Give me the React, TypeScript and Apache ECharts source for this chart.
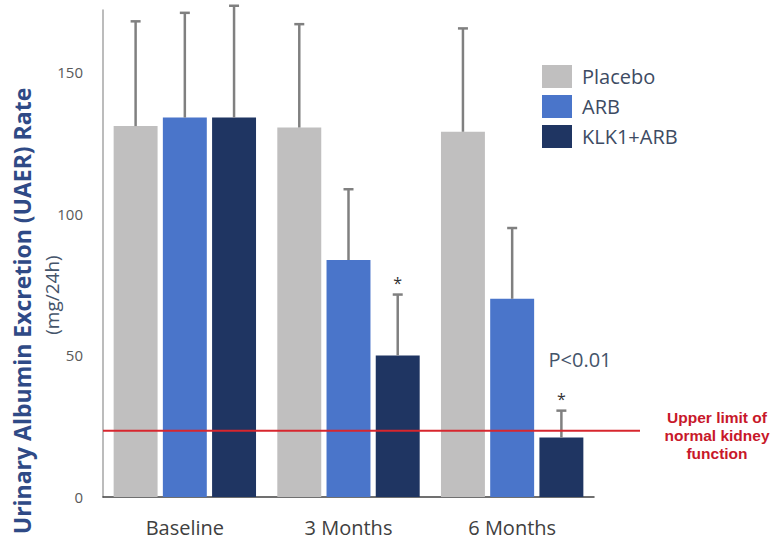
import React, { useEffect, useRef } from "react";
import * as echarts from "echarts";

const categories = ["Baseline", "3 Months", "6 Months"];
const seriesNames = ["Placebo", "ARB", "KLK1+ARB"];
const placebo = [131, 130.5, 129];
const placeboSD = [37, 36.5, 36.5];
const arb = [134, 83.7, 70];
const arbSD = [37, 25, 25];
const klk = [134, 50, 21];
const klkSD = [39.5, 21.5, 9.5];
const klkSignificant = [false, true, true];
const upperLimit = 23.4;
const yTicks = [0, 50, 100, 150];

const colors = ["#c0bfbf", "#4a75ca", "#1f3562"];
const CAT_GAP = 0.13;
const BAR_GAP = 0.12;

function errorRender(k: number, means: number[], sds: number[], stars?: boolean[]) {
  return (params: any, api: any) => {
    const i = api.value(0);
    const band = api.size([1, 0])[0];
    const remained = band * (1 - CAT_GAP);
    const w = remained / (3 + 2 * BAR_GAP);
    const total = 3 * w + 2 * w * BAR_GAP;
    const cx0 = api.coord([i, 0])[0];
    const cx = cx0 - total / 2 + k * (w + w * BAR_GAP) + w / 2;
    const yBase = api.coord([i, means[i]])[1];
    const yTop = api.coord([i, means[i] + sds[i]])[1];
    const capW = 5;
    const children: any[] = [
      { type: "line", shape: { x1: cx, y1: yBase, x2: cx, y2: yTop }, style: { stroke: "#808080", lineWidth: 2.5 } },
      { type: "line", shape: { x1: cx - capW, y1: yTop, x2: cx + capW, y2: yTop }, style: { stroke: "#808080", lineWidth: 2.5 } },
    ];
    if (stars && stars[i]) {
      children.push({
        type: "text",
        x: cx,
        y: yTop - 12,
        style: { text: "*", fill: "#333", font: "16px 'Open Sans'", align: "center", verticalAlign: "middle" },
      });
    }
    return { type: "group", children };
  };
}

export default function App() {
  const ref = useRef<HTMLDivElement>(null);
  useEffect(() => {
    const chart = echarts.init(ref.current!, undefined, { renderer: "svg" });
    const barSeries = [placebo, arb, klk].map((d, k) => ({
      name: seriesNames[k],
      type: "bar",
      data: d,
      itemStyle: { color: colors[k] },
      barCategoryGap: "13%",
      barGap: "12%",
    }));
    const errs = [
      [placebo, placeboSD, undefined],
      [arb, arbSD, undefined],
      [klk, klkSD, klkSignificant],
    ].map((e: any, k) => ({
      type: "custom",
      clip: false,
      z: 5,
      silent: true,
      data: categories.map((_, i) => [i]),
      renderItem: errorRender(k, e[0], e[1], e[2]),
    }));
    chart.setOption({
      animation: false,
      textStyle: { fontFamily: "'Open Sans'" },
      grid: { left: 103, right: 179, top: 10, bottom: 50 },
      legend: {
        orient: "vertical",
        left: 537,
        top: 60,
        itemWidth: 30,
        itemHeight: 23,
        itemGap: 7,
        icon: "rect",
        data: seriesNames,
        textStyle: { fontSize: 20, color: "#3d4b63", fontFamily: "'Open Sans'", padding: [0, 0, 0, 5] },
      },
      xAxis: {
        type: "category",
        data: categories,
        axisLine: { lineStyle: { color: "#404040", width: 1.5 } },
        axisTick: { show: false },
        axisLabel: { fontSize: 20, color: "#404040", margin: 20, fontFamily: "'Open Sans'" },
      },
      yAxis: {
        type: "value",
        min: 0,
        max: 172,
        interval: 50,
        splitLine: { show: false },
        axisTick: { show: false },
        axisLine: { show: true, lineStyle: { color: "#a6a6a6", width: 1.5 } },
        axisLabel: {
          fontSize: 15,
          color: "#595959",
          margin: 20,
          fontFamily: "'Open Sans'",
          formatter: (v: number) => (yTicks.includes(v) ? String(v) : ""),
        },
      },
      series: [
        ...barSeries,
        ...errs,
        {
          type: "custom",
          clip: false,
          silent: true,
          z: 6,
          data: [[0, upperLimit]],
          renderItem: (params: any, api: any) => {
            const cs = params.coordSys;
            const y = api.coord([0, api.value(1)])[1];
            return {
              type: "line",
              shape: { x1: cs.x, y1: y, x2: cs.x + cs.width + 46, y2: y },
              style: { stroke: "#d7262e", lineWidth: 2 },
            };
          },
        },
      ],
      graphic: [
        {
          type: "text",
          x: 22,
          y: 311,
          rotation: Math.PI / 2,
          style: {
            text: "Urinary Albumin Excretion (UAER) Rate",
            fill: "#2f4a86",
            font: "bold 23px 'Open Sans'",
            align: "center",
            verticalAlign: "middle",
          },
        },
        {
          type: "text",
          x: 52,
          y: 295,
          rotation: Math.PI / 2,
          style: {
            text: "(mg/24h)",
            fill: "#44546a",
            font: "19px 'Open Sans'",
            align: "center",
            verticalAlign: "middle",
          },
        },
        {
          type: "text",
          x: 580,
          y: 359,
          style: {
            text: "P<0.01",
            fill: "#44546a",
            font: "20px 'Open Sans'",
            align: "center",
            verticalAlign: "middle",
          },
        },
        {
          type: "text",
          x: 717,
          y: 435,
          style: {
            text: "Upper limit of\nnormal kidney\nfunction",
            fill: "#c8182a",
            font: "bold 15.5px 'Liberation Sans'",
            lineHeight: 18,
            align: "center",
            verticalAlign: "middle",
          },
        },
      ],
    });
    return () => chart.dispose();
  }, []);
  return <div ref={ref} style={{ position: "fixed", left: 0, top: 0, width: 773, height: 547, background: "#fff" }} />;
}
